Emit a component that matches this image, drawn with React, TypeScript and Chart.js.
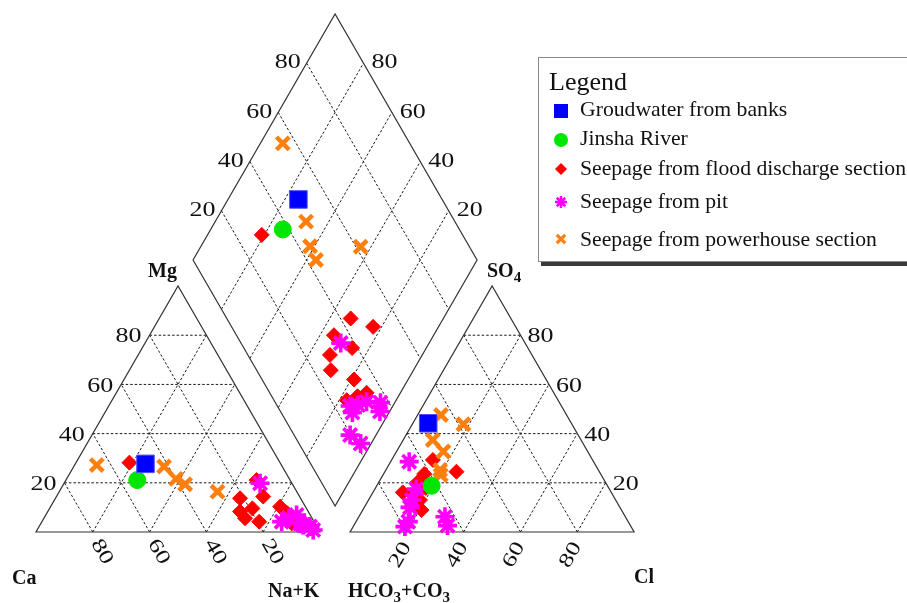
import React, { useEffect, useRef } from 'react';
import { Chart, registerables } from 'chart.js';

Chart.register(...registerables);

// ---------- DATA (percentages) ----------
// Cation triangle: [Na+K %, Mg %]   (Ca = 100 - Na+K - Mg)
// Anion triangle:  [Cl %, SO4 %]    (HCO3+CO3 = 100 - Cl - SO4)
// Diamond:         [Na+K %, Cl+SO4 %]
const seriesNames = [
  'Groudwater from banks',
  'Jinsha River',
  'Seepage from flood discharge section',
  'Seepage from pit',
  'Seepage from powerhouse section',
];

const banksCation = [[24.7, 27.7]];
const banksAnion = [[5.4, 44.2]];
const banksDiamond = [[24.8, 49.4]];

const riverCation = [[25.1, 21.1]];
const riverAnion = [[19.3, 18.8]];
const riverDiamond = [[25.4, 37.8]];

const floodCation = [
  [18.8, 28.2], [67.1, 21.1], [65.0, 13.7], [72.8, 14.4], [71.4, 9.6], [67.7, 8.3],
  [70.8, 5.6], [76.5, 4.2], [80.8, 10.3], [84.7, 7.6], [88.3, 3.5],
];
const floodAnion = [
  [14.5, 29.3], [25.2, 24.5], [14.3, 23.6], [13.7, 20.3], [10.5, 16.1], [14.8, 15.0],
  [17.7, 17.9], [18.1, 13.0], [20.7, 8.9],
];
const floodDiamond = [
  [19.1, 29.3], [67.4, 43.6], [77.0, 49.8], [64.9, 34.3], [73.9, 38.1], [67.5, 28.9],
  [70.9, 26.1], [81.0, 32.4], [88.1, 34.1], [85.6, 30.2], [82.6, 25.6],
];

const pitCation = [
  [69.0, 19.8], [84.4, 4.2], [88.3, 6.9], [91.2, 3.5], [95.4, 2.2], [97.2, 0.8],
  [86.2, 5.7], [92.6, 2.8],
];
const pitAnion = [
  [6.5, 28.6], [14.5, 17.5], [16.1, 10.0], [18.4, 4.2], [18.2, 2.2], [30.3, 6.2],
  [33.0, 2.6], [15.3, 13.0],
];
const pitDiamond = [
  [68.9, 35.1], [85.0, 25.6], [87.1, 25.1], [89.9, 32.3], [95.0, 37.0], [96.6, 35.0],
  [90.9, 19.7], [96.3, 21.7], [87.6, 28.6],
];

const powerCation = [[7.8, 27.2], [31.8, 26.6], [38.5, 21.6], [42.8, 19.4], [55.7, 16.4]];
const powerAnion = [
  [8.2, 47.6], [18.0, 43.8], [10.4, 37.4], [16.5, 32.7], [19.1, 25.2], [20.3, 23.2],
];
const powerDiamond = [[7.9, 55.3], [32.0, 47.6], [38.4, 44.0], [43.3, 43.3], [56.3, 61.7]];

const gridValues = [20, 40, 60, 80];
const tickLabels = ['20', '40', '60', '80'];

// ---------- GEOMETRY ----------
const H = Math.sqrt(3) / 2;
const GAP = 10.6;
const catXY = (nak: number, mg: number) => [nak + mg / 2, mg * H];
const anXY = (cl: number, so4: number) => [100 + GAP + cl + so4 / 2, so4 * H];
const diaXY = (nak: number, clso4: number) => [
  (nak + 100 + GAP + clso4) / 2,
  (100 + GAP + clso4 - nak) * H,
];

const toPoints = (cat: number[][], an: number[][], dia: number[][]) => [
  ...cat.map(([a, b]) => { const p = catXY(a, b); return { x: p[0], y: p[1] }; }),
  ...an.map(([a, b]) => { const p = anXY(a, b); return { x: p[0], y: p[1] }; }),
  ...dia.map(([a, b]) => { const p = diaXY(a, b); return { x: p[0], y: p[1] }; }),
];

const SERIF = "'Liberation Serif', 'Times New Roman', serif";

const drawLegendMarker = (ctx: CanvasRenderingContext2D, kind: number, x: number, y: number) => {
  ctx.save();
  ctx.setLineDash([]);
  if (kind === 0) {
    ctx.fillStyle = '#0000ff';
    ctx.fillRect(x - 7, y - 7, 14, 14);
  } else if (kind === 1) {
    ctx.fillStyle = '#00e600';
    ctx.beginPath(); ctx.arc(x, y, 7, 0, Math.PI * 2); ctx.fill();
  } else if (kind === 2) {
    ctx.fillStyle = '#ff0000';
    ctx.beginPath();
    ctx.moveTo(x, y - 6); ctx.lineTo(x + 6, y); ctx.lineTo(x, y + 6); ctx.lineTo(x - 6, y);
    ctx.closePath(); ctx.fill();
  } else if (kind === 3) {
    ctx.strokeStyle = '#ff00ff'; ctx.lineWidth = 2.5;
    const r = 6, d = r * Math.SQRT1_2;
    ctx.beginPath();
    ctx.moveTo(x - r, y); ctx.lineTo(x + r, y);
    ctx.moveTo(x, y - r); ctx.lineTo(x, y + r);
    ctx.moveTo(x - d, y - d); ctx.lineTo(x + d, y + d);
    ctx.moveTo(x - d, y + d); ctx.lineTo(x + d, y - d);
    ctx.stroke();
  } else {
    ctx.strokeStyle = '#ff7f0e'; ctx.lineWidth = 3.2;
    const d = 4.2;
    ctx.beginPath();
    ctx.moveTo(x - d, y - d); ctx.lineTo(x + d, y + d);
    ctx.moveTo(x - d, y + d); ctx.lineTo(x + d, y - d);
    ctx.stroke();
  }
  ctx.restore();
};

const drawSubText = (ctx: CanvasRenderingContext2D, parts: [string, boolean][], x: number, y: number) => {
  let cx = x;
  for (const [t, sub] of parts) {
    ctx.font = sub ? `bold 15px ${SERIF}` : `bold 20px ${SERIF}`;
    ctx.fillText(t, cx, sub ? y + 5 : y);
    cx += ctx.measureText(t).width;
  }
};

const piperPlugin = {
  id: 'piperFrame',
  beforeDatasetsDraw(chart: any) {
    const ctx: CanvasRenderingContext2D = chart.ctx;
    const sx = chart.scales.x;
    const sy = chart.scales.y;
    const P = (p: number[]) => [sx.getPixelForValue(p[0]), sy.getPixelForValue(p[1])];
    const seg = (a: number[], b: number[]) => {
      const A = P(a), B = P(b);
      ctx.beginPath(); ctx.moveTo(A[0], A[1]); ctx.lineTo(B[0], B[1]); ctx.stroke();
    };
    const poly = (pts: number[][]) => {
      ctx.beginPath();
      pts.forEach((p, i) => { const q = P(p); if (i === 0) ctx.moveTo(q[0], q[1]); else ctx.lineTo(q[0], q[1]); });
      ctx.closePath(); ctx.stroke();
    };
    ctx.save();
    // dashed grid
    ctx.setLineDash([2.5, 2]);
    ctx.strokeStyle = '#1a1a1a';
    ctx.lineWidth = 1;
    for (const k of gridValues) {
      seg(catXY(0, k), catXY(100 - k, k));
      seg(catXY(k, 0), catXY(k, 100 - k));
      seg(catXY(100 - k, 0), catXY(0, 100 - k));
      seg(anXY(0, k), anXY(100 - k, k));
      seg(anXY(k, 0), anXY(k, 100 - k));
      seg(anXY(100 - k, 0), anXY(0, 100 - k));
      seg(diaXY(k, 0), diaXY(k, 100));
      seg(diaXY(0, k), diaXY(100, k));
    }
    // outlines
    ctx.setLineDash([]);
    ctx.strokeStyle = '#333';
    ctx.lineWidth = 1.2;
    poly([catXY(0, 0), catXY(100, 0), catXY(0, 100)]);
    poly([anXY(0, 0), anXY(100, 0), anXY(0, 100)]);
    poly([diaXY(100, 0), diaXY(0, 0), diaXY(0, 100), diaXY(100, 100)]);

    // tick labels
    ctx.fillStyle = '#111';
    ctx.font = `20px ${SERIF}`;
    ctx.textBaseline = 'middle';
    const tick = (text: string, x: number, y: number, align: CanvasTextAlign, rot = 0) => {
      ctx.save();
      ctx.translate(x, y);
      ctx.rotate(rot);
      ctx.scale(1.3, 1);
      ctx.textAlign = align;
      ctx.fillText(text, 0, 0);
      ctx.restore();
    };
    gridValues.forEach((k, i) => {
      const lab = tickLabels[i];
      // cation: Mg along left edge
      let q = P(catXY(0, k));
      tick(lab, q[0] - 8, q[1] + 2, 'right');
      // cation: Ca along base
      q = P(catXY(100 - k, 0));
      tick(lab, q[0] + 9, q[1] + 20, 'center', Math.PI / 3);
      // anion: SO4 along right edge
      q = P(anXY(100 - k, k));
      tick(lab, q[0] + 7, q[1] + 2, 'left');
      // anion: Cl along base
      q = P(anXY(k, 0));
      tick(lab, q[0] - 6.5, q[1] + 23, 'center', -Math.PI / 3);
      // diamond upper-left: Cl+SO4
      q = P(diaXY(0, k));
      tick(lab, q[0] - 6, q[1], 'right');
      // diamond upper-right: Ca+Mg
      q = P(diaXY(100 - k, 100));
      tick(lab, q[0] + 8, q[1], 'left');
    });

    // axis titles
    ctx.textAlign = 'left';
    ctx.textBaseline = 'alphabetic';
    ctx.fillStyle = '#111';
    drawSubText(ctx, [['Mg', false]], 148, 277);
    drawSubText(ctx, [['SO', false], ['4', true]], 487, 277);
    drawSubText(ctx, [['Ca', false]], 12, 584);
    drawSubText(ctx, [['Na+K', false]], 268, 597);
    drawSubText(ctx, [['HCO', false], ['3', true], ['+CO', false], ['3', true]], 348, 597);
    drawSubText(ctx, [['Cl', false]], 634, 583);
    ctx.restore();
  },
  afterDraw(chart: any) {
    const ctx: CanvasRenderingContext2D = chart.ctx;
    ctx.save();
    // shadow + box
    ctx.fillStyle = '#3a3a3a';
    ctx.fillRect(541, 262, 380, 4);
    ctx.fillStyle = '#ffffff';
    ctx.fillRect(538, 57, 380, 205);
    ctx.strokeStyle = '#8a8a8a';
    ctx.lineWidth = 1;
    ctx.strokeRect(538.5, 57.5, 380, 204);
    ctx.fillStyle = '#111';
    ctx.textAlign = 'left';
    ctx.textBaseline = 'alphabetic';
    ctx.font = `26px ${SERIF}`;
    ctx.fillText('Legend', 549, 90);
    const rowsText = [116, 145, 175, 208, 246];
    const rowsMark = [111, 140, 169, 202, 239];
    ctx.font = `21.7px ${SERIF}`;
    seriesNames.forEach((name, i) => {
      drawLegendMarker(ctx, i, 561, rowsMark[i]);
      ctx.fillStyle = '#111';
      ctx.fillText(name, 580, rowsText[i]);
    });
    ctx.restore();
  },
};

export default function App() {
  const ref = useRef<HTMLCanvasElement | null>(null);
  useEffect(() => {
    if (!ref.current) return;
    const chart = new Chart(ref.current, {
      type: 'scatter',
      data: {
        datasets: [
          {
            label: seriesNames[0],
            data: toPoints(banksCation, banksAnion, banksDiamond),
            pointStyle: 'rect',
            pointRadius: 12.4,
            backgroundColor: '#0000ff',
            borderColor: '#4d4dff',
            borderWidth: 1,
            order: 0,
          },
          {
            label: seriesNames[1],
            data: toPoints(riverCation, riverAnion, riverDiamond),
            pointStyle: 'circle',
            pointRadius: 8.5,
            backgroundColor: '#00e600',
            borderColor: '#00e600',
            borderWidth: 1,
            order: 1,
          },
          {
            label: seriesNames[2],
            data: toPoints(floodCation, floodAnion, floodDiamond),
            pointStyle: 'rectRot',
            pointRadius: 7.5,
            backgroundColor: '#ff0000',
            borderColor: '#ff0000',
            borderWidth: 1,
            order: 4,
          },
          {
            label: seriesNames[3],
            data: toPoints(pitCation, pitAnion, pitDiamond),
            pointStyle: 'star',
            pointRadius: 9.5,
            backgroundColor: '#ff00ff',
            borderColor: '#ff00ff',
            borderWidth: 3.6,
            order: 2,
          },
          {
            label: seriesNames[4],
            data: toPoints(powerCation, powerAnion, powerDiamond),
            pointStyle: 'crossRot',
            pointRadius: 9,
            backgroundColor: '#ff7f0e',
            borderColor: '#ff7f0e',
            borderWidth: 4.5,
            order: 3,
          },
        ],
      },
      options: {
        animation: false,
        responsive: false,
        events: [],
        layout: { padding: 0, autoPadding: false },
        plugins: { legend: { display: false }, tooltip: { enabled: false }, title: { display: false } },
        scales: {
          x: { type: 'linear', min: -12.68, max: 306.69, display: false },
          y: { type: 'linear', min: -25.0, max: 187.32, display: false },
        },
      },
      plugins: [piperPlugin],
    });
    return () => chart.destroy();
  }, []);
  return (
    <div style={{ position: 'fixed', left: 0, top: 0, width: 907, height: 603, background: '#fff' }}>
      <canvas ref={ref} width={907} height={603} style={{ display: 'block' }} />
    </div>
  );
}
